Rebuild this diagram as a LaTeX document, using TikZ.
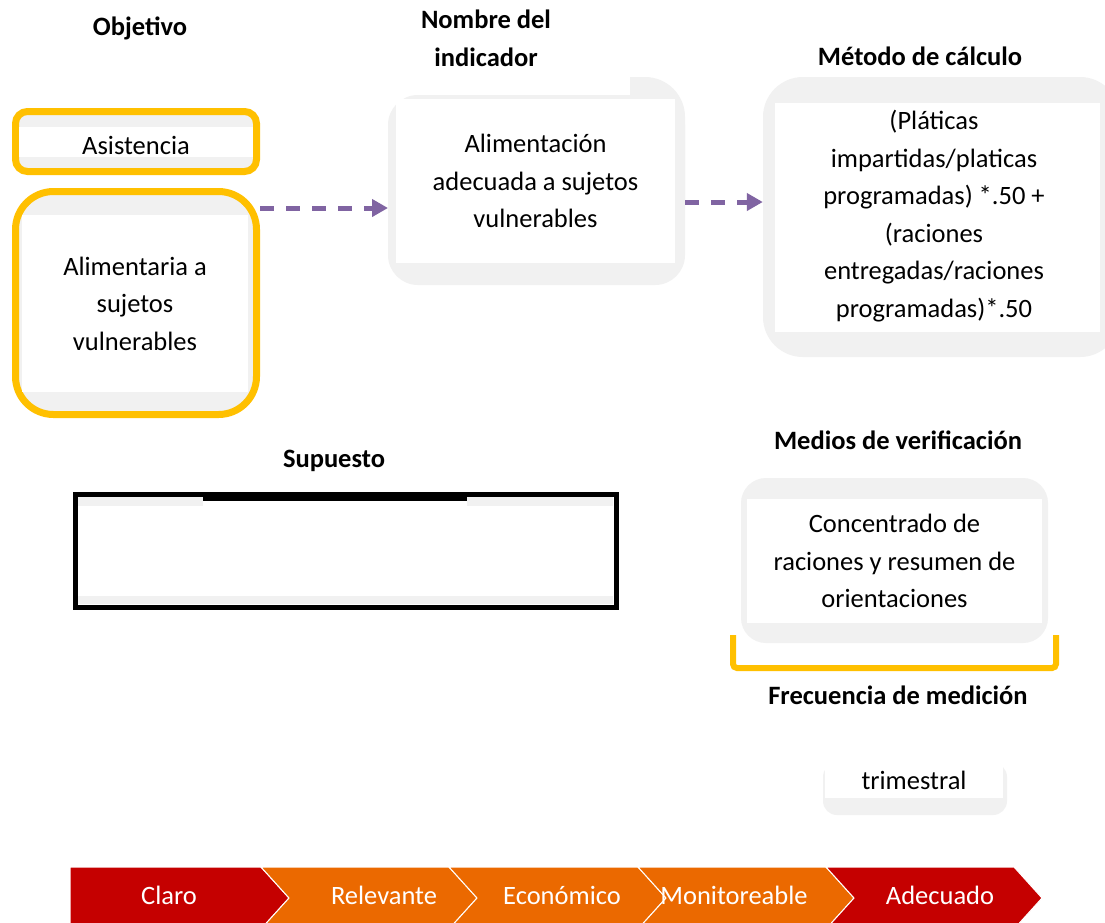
\documentclass[tikz,border=0pt]{standalone}
\usepackage{fontspec}
\setmainfont{Carlito}
\usetikzlibrary{arrows.meta}
\usetikzlibrary{calc}
\usepackage{xcolor}
\definecolor{gris}{RGB}{241,241,241}
\definecolor{oro}{RGB}{255,192,0}
\definecolor{morado}{RGB}{128,100,162}
\definecolor{rojo}{RGB}{197,0,0}
\definecolor{naranja}{RGB}{235,105,0}
\newcommand{\letra}{\fontsize{26.5}{37.5}\selectfont}

\begin{document}
\begin{tikzpicture}[x=1pt, y=-1pt]
        % ================= 样式定义 =================
        \tikzset{
            % 灰底圆角框
            caja/.style={rectangle, rounded corners=#1, fill=gris, inner sep=0pt},
            % 金色粗边
            marco/.style={draw=oro, line width=7pt},
            % 白色文字区
            blanco/.style={rectangle, fill=white, inner sep=0pt, align=center, font=\letra},
            % 标题:加粗
            titulo/.style={align=center, inner sep=0pt, font=\letra\bfseries},
            texto/.style={align=center, inner sep=0pt, font=\letra},
            % 紫色虚线箭头
            flecha/.style={draw=morado, line width=5pt, dash pattern=on 14pt off 12pt,
                -{Triangle[length=16pt, width=17pt]}},
            % 底部箭头条文字
            etiqueta/.style={text=white, inner sep=0pt, font=\letra}
        }

        % ================= 0. 画布 =================
        \clip (0,0) rectangle (1105,922);
        \fill[white] (0,0) rectangle (1105,922);

        % ================= 1. 标题 =================
        \node[titulo] (tobj) at (140,28) {Objetivo};
        \node[titulo] (tnom) at (486,38.5) {Nombre del\\indicador};
        \node[titulo] (tmet) at (920,56) {Método de cálculo};
        \node[titulo] (tsup) at (334,461) {Supuesto};
        \node[titulo] (tmed) at (898,440) {Medios de verificación};
        \node[titulo] (tfre) at (898,695) {Frecuencia de medición};

        % ================= 2. 方框 =================

        % 目标 (金色边框)
        \node[caja=12, marco, minimum width=241, minimum height=60] (obj1) at (136,141.5) {};
        \node[blanco, minimum width=234, minimum height=30] (obj1t) at (136,142) {};
        \node[texto] (asis) at (136,145) {Asistencia};
        \node[caja=38, marco, minimum width=241, minimum height=223] (obj2) at (136,303) {};
        \node[blanco, minimum width=226, minimum height=177] (obj2t) at (135,303.5) {Alimentaria a\\sujetos\\vulnerables};

        % 指标名称 (右上角多出一块)
        \fill[gris, rounded corners=30] (388,95) rectangle (685,285);
        \begin{scope}
            \clip (630,70) rectangle (700,200);
            \fill[gris, rounded corners=40] (560,77) rectangle (685,285);
        \end{scope}
        \node[blanco, minimum width=279, minimum height=164] (nom) at (535.5,181) {Alimentación\\adecuada a sujetos\\vulnerables};
        \coordinate (nomO) at (388,208);
        \coordinate (nomE) at (685,202);

        % 计算方法
        \node[caja=40, minimum width=357, minimum height=280] (met) at (941.5,217) {};
        \node[blanco, minimum width=325, minimum height=229] (metb) at (937.5,217.5) {};
        \node[texto] (mett) at (934,216) {(Pláticas\\impartidas/platicas\\programadas) *.50 +\\(raciones\\entregadas/raciones\\programadas)*.50};

        % 假设 (黑框)
        \node[draw=black, line width=5pt, fill=white, minimum width=541, minimum height=113, inner sep=0pt] (sup) at (345.5,550.5) {};
        \fill[gris] (78,497) rectangle (203,506);
        \fill[gris] (467,497) rectangle (613,506);
        \fill[gris] (78,596) rectangle (613,604);
        \fill[black] (203,491.5) rectangle (467,501);

        % 核查手段
        \node[caja=25, minimum width=307, minimum height=165] (med) at (894.5,560.5) {};
        \node[blanco, minimum width=295, minimum height=124] (medt) at (894.5,561) {Concentrado de\\raciones y resumen de\\orientaciones};
        \draw[oro, line width=6pt, rounded corners=4] (733,635) -- (733,668) -- (1056,668) -- (1056,635);

        % 测量频率
        \node[caja=14, minimum width=184, minimum height=52] (fre) at (915,789) {};
        \node[blanco, minimum width=178, minimum height=35] (fret) at (914,780.5) {trimestral};

        % ================= 3. 箭头 =================
        \draw[flecha] (obj2.east |- nomO) -- (nomO);
        \draw[flecha] (nomE) -- (met.west |- nomE);

        % ================= 4. 底部箭头条 =================
        \foreach \xa/\xb/\nd/\col in {70/261/0/rojo, 261/449/28/naranja, 449/638/28/naranja,
                                     638/826/28/naranja, 826/1014/28/rojo}
            \fill[\col, draw=white, line width=1pt] (\xa,867) -- (\xb,867) -- (\xb+28,898)
                -- (\xb,929) -- (\xa,929) -- (\xa+\nd,898) -- cycle;

        \foreach \n/\x/\t in {claro/169/Claro, relevante/384/Relevante, economico/562/Económico,
                              monitoreable/734/Monitoreable, adecuado/940/Adecuado}
            \node[etiqueta] (\n) at (\x,895) {\t};

    \end{tikzpicture}
\end{document}
